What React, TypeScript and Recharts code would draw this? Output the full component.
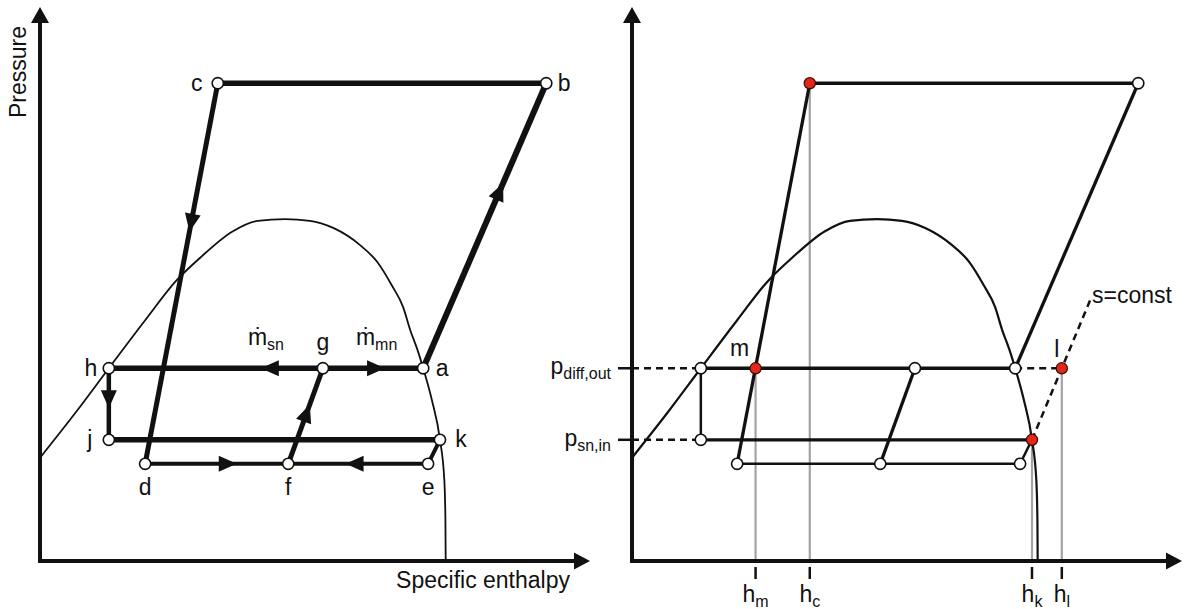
import React from "react";
import { ComposedChart, Line, Scatter, XAxis, YAxis } from "recharts";

// Pressure levels (relative units, 0..100 along the axis)
const pHigh = 87.5;
const pDiffOut = 35.3;
const pSnIn = 22.2;
const pLow = 17.8;

// Specific enthalpy of every state point (relative units, 0..100)
const hOf: Record<string, number> = {
  a: 70.7, b: 93.4, c: 32.8, d: 19.4, e: 71.6, f: 45.8,
  g: 52.2, h: 12.7, j: 12.7, k: 73.8, l: 79.3, m: 22.8,
};
const pOf: Record<string, number> = {
  a: pDiffOut, b: pHigh, c: pHigh, d: pLow, e: pLow, f: pLow,
  g: pDiffOut, h: pDiffOut, j: pSnIn, k: pSnIn, l: pDiffOut, m: pDiffOut,
};

// Saturation dome (liquid line -> critical point -> vapour line)
const domeH = [0, 6.5, 12.7, 19.4, 25.1, 29.5, 35.6, 40.2, 45.2, 49.8, 54.1, 59.0, 62.2, 64.9, 67.0, 68.3, 69.6, 70.7, 72.3, 73.8, 74.6, 74.8, 74.85];
const domeP = [18.9, 27.1, 35.3, 44.1, 51.3, 55.5, 60.4, 62.3, 62.6, 62.3, 61.0, 57.9, 54.8, 50.5, 46.5, 42.3, 38.8, 35.3, 29.5, 22.2, 14.8, 7.5, 0];

// Isentrope from k through l, continued up to its label
const isentropeEnd = { h: 84.5, p: 47.7 };

const cycleEdges = ["cb", "ab", "cd", "ha", "hj", "jk", "de", "ek", "fg"];
const flowArrows = [
  { from: "c", to: "d", at: 0.39 },
  { from: "a", to: "b", at: 0.65 },
  { from: "g", to: "h", at: 0.29 },
  { from: "g", to: "a", at: 0.62 },
  { from: "h", to: "j", at: 0.56 },
  { from: "d", to: "f", at: 0.64 },
  { from: "e", to: "f", at: 0.59 },
  { from: "f", to: "g", at: 0.62 },
];
const leftStates = ["a", "b", "c", "d", "e", "f", "g", "h", "j", "k"];
const massFlows = ["sn", "mn"];
const rightOpenStates = ["b", "h", "g", "a", "j", "d", "f", "e"];
const rightMarkedStates = ["c", "m", "l", "k"];
const rightLabels = ["m", "l"];
const enthalpyTicks = ["m", "c", "k", "l"];
const enthalpyTickValues = enthalpyTicks.map((s) => hOf[s]);
const pressureTickValues = [pDiffOut, pSnIn];
const pressureTickNames = ["diff,out", "sn,in"];

const FONT = '"Liberation Sans", Arial, Helvetica, sans-serif';
const INK = "#111";
const RED = "#e3261a";
const GUIDE = "#a3a3a3";
const PX_PER_H = 5.42;
const PX_PER_P = 5.46;
const LABEL_SIZE = 23;
const SUB_SIZE = 16;

const pt = (s: string) => ({ h: hOf[s], p: pOf[s] });
const edgeData = (e: string) => [pt(e[0]), pt(e[1])];
const domeData = domeH.map((h, i) => ({ h, p: domeP[i] }));
const arrowData = (f: { from: string; to: string; at: number }) => {
  const a = pt(f.from);
  const b = pt(f.to);
  const dh = b.h - a.h;
  const dp = b.p - a.p;
  return [a, { h: a.h + f.at * dh, p: a.p + f.at * dp, dh, dp }];
};
const axisTips = [
  { h: 0, p: 100 },
  { h: 100, p: 0 },
];

const leftWidth: Record<string, number> = { cb: 5.5, ab: 6, cd: 5, ha: 5.5, hj: 4.5, jk: 5.5, de: 4, ek: 4, fg: 5 };
const rightWidth: Record<string, number> = { cb: 3.3, ab: 3.3, cd: 3.3, ha: 3.5, hj: 2.5, jk: 3.3, de: 2.5, ek: 2.5, fg: 3.3 };
const leftLabelOffset: Record<string, [number, number]> = {
  a: [19, 0], b: [18, 0], c: [-21, 0], d: [0, 24], e: [0, 24], f: [0, 24],
  g: [0, -26], h: [-18, 0], j: [-19, 0], k: [21, 0],
};
const rightLabelOffset: Record<string, [number, number]> = { m: [-16, -20], l: [-5, -19] };
const massFlowOffset: Record<string, number> = { sn: -75, mn: 33 };

const lineBase = {
  dataKey: "p",
  dot: false,
  activeDot: false,
  isAnimationActive: false,
  legendType: "none" as const,
};

const ArrowHead = (props: any) => {
  const { cx, cy, index, points, payload } = props;
  if (index !== 1) return null;
  let dx: number;
  let dy: number;
  if (points && points.length > 1) {
    dx = cx - points[0].x;
    dy = cy - points[0].y;
  } else {
    dx = payload.dh * PX_PER_H;
    dy = -payload.dp * PX_PER_P;
  }
  const len = Math.hypot(dx, dy) || 1;
  const ux = dx / len;
  const uy = dy / len;
  const L = 18;
  const W = 8;
  const bx = cx - ux * L;
  const by = cy - uy * L;
  const d = `M${cx},${cy} L${bx - uy * W},${by + ux * W} L${bx + uy * W},${by - ux * W} Z`;
  return <path key={`arrow-${cx}-${cy}`} d={d} fill={INK} />;
};

const AxisTip = (props: any) => {
  const { cx, cy, payload } = props;
  const d =
    payload.h === 0
      ? `M${cx},${cy - 8} L${cx - 9},${cy + 8} L${cx + 9},${cy + 8} Z`
      : `M${cx + 8},${cy} L${cx - 8},${cy - 8.5} L${cx - 8},${cy + 8.5} Z`;
  return <path d={d} fill={INK} />;
};

const OpenNode = (props: any) => (
  <circle cx={props.cx} cy={props.cy} r={5.6} fill="#fff" stroke={INK} strokeWidth={1.6} />
);
const MarkedNode = (props: any) => (
  <circle cx={props.cx} cy={props.cy} r={5.6} fill={RED} stroke="#3a0a05" strokeWidth={1.2} />
);

const makeLetter = (offsets: Record<string, [number, number]>) => (props: any) => {
  const { cx, cy, payload } = props;
  const [dx, dy] = offsets[payload.name] || [0, 0];
  return (
    <text x={cx + dx} y={cy + dy} dy="0.32em" textAnchor="middle" fontSize={LABEL_SIZE} fontFamily={FONT} fill={INK}>
      {payload.name}
    </text>
  );
};

const MassFlowLabel = (props: any) => {
  const { cx, cy, payload } = props;
  return (
    <text x={cx + massFlowOffset[payload.name]} y={cy - 23} fontSize={LABEL_SIZE} fontFamily={FONT} fill={INK}>
      {"\u1E41"}
      <tspan fontSize={SUB_SIZE} dy={5}>
        {payload.name}
      </tspan>
    </text>
  );
};

const IsentropeLabel = (props: any) => (
  <text x={props.cx + 2} y={props.cy + 2.5} fontSize={LABEL_SIZE} fontFamily={FONT} fill={INK}>
    s=const
  </text>
);

const EnthalpyTick = (props: any) => {
  const { x, y, payload } = props;
  const i = enthalpyTickValues.indexOf(payload.value);
  return (
    <g>
      <line x1={x} x2={x} y1={y + 6} y2={y + 18} stroke={INK} strokeWidth={2.5} />
      <text x={x} y={y + 41} textAnchor="middle" fontSize={LABEL_SIZE} fontFamily={FONT} fill={INK}>
        h
        <tspan fontSize={SUB_SIZE} dy={5}>
          {enthalpyTicks[i]}
        </tspan>
      </text>
    </g>
  );
};

const PressureTick = (props: any) => {
  const { x, y, payload } = props;
  const i = pressureTickValues.indexOf(payload.value);
  return (
    <text x={x} y={y + 6} textAnchor="end" fontSize={LABEL_SIZE} fontFamily={FONT} fill={INK}>
      p
      <tspan fontSize={SUB_SIZE} dy={5}>
        {pressureTickNames[i]}
      </tspan>
    </text>
  );
};

const axisLineStyle = { stroke: INK, strokeWidth: 4, strokeLinecap: "square" as const };

function LeftDiagram() {
  return (
    <ComposedChart width={600} height={609} margin={{ top: 15, right: 18, bottom: 0, left: 0 }}>
      <XAxis
        type="number"
        dataKey="h"
        domain={[0, 100]}
        height={48}
        tick={false}
        tickLine={false}
        axisLine={axisLineStyle}
        label={(lp: any) => {
          const vb = lp.viewBox || { x: 40, y: 561, width: 542 };
          return (
            <text x={vb.x + vb.width - 12} y={vb.y + 27} textAnchor="end" fontSize={23} fontFamily={FONT} fill={INK}>
              Specific enthalpy
            </text>
          );
        }}
      />
      <YAxis
        type="number"
        dataKey="p"
        domain={[0, 100]}
        width={40}
        tick={false}
        tickLine={false}
        axisLine={axisLineStyle}
        label={(lp: any) => {
          const vb = lp.viewBox || { x: 0, y: 15 };
          const tx = vb.x + 26;
          const ty = vb.y + 57;
          return (
            <text x={tx} y={ty} transform={`rotate(-90 ${tx} ${ty})`} textAnchor="middle" fontSize={23} fontFamily={FONT} fill={INK}>
              Pressure
            </text>
          );
        }}
      />
      <Line {...lineBase} data={domeData} type="monotone" stroke={INK} strokeWidth={1.8} />
      {cycleEdges.map((e) => (
        <Line key={e} {...lineBase} data={edgeData(e)} type="linear" stroke={INK} strokeWidth={leftWidth[e]} />
      ))}
      {flowArrows.map((f) => (
        <Line
          key={`${f.from}${f.to}`}
          {...lineBase}
          data={arrowData(f)}
          type="linear"
          stroke="none"
          dot={ArrowHead}
        />
      ))}
      <Scatter data={axisTips} shape={AxisTip} isAnimationActive={false} legendType="none" />
      <Scatter data={leftStates.map(pt)} shape={OpenNode} isAnimationActive={false} legendType="none" />
      <Scatter
        data={leftStates.map((s) => ({ ...pt(s), name: s }))}
        shape={makeLetter(leftLabelOffset)}
        isAnimationActive={false}
        legendType="none"
      />
      <Scatter
        data={massFlows.map((name) => ({ ...pt("g"), name }))}
        shape={MassFlowLabel}
        isAnimationActive={false}
        legendType="none"
      />
    </ComposedChart>
  );
}

function RightDiagram() {
  const dashed = { stroke: INK, strokeWidth: 2.5, strokeDasharray: "7 5" };
  return (
    <ComposedChart width={664} height={609} margin={{ top: 15, right: 10, bottom: 0, left: 0 }}>
      <XAxis
        type="number"
        dataKey="h"
        domain={[0, 100]}
        height={48}
        ticks={enthalpyTickValues}
        interval={0}
        tickSize={0}
        tickMargin={0}
        tickLine={false}
        tick={EnthalpyTick}
        axisLine={axisLineStyle}
      />
      <YAxis
        type="number"
        dataKey="p"
        domain={[0, 100]}
        width={112}
        ticks={pressureTickValues}
        interval={0}
        tickSize={14}
        tickMargin={7}
        tickLine={{ stroke: INK, strokeWidth: 2.5 }}
        tick={PressureTick}
        axisLine={axisLineStyle}
      />
      {enthalpyTicks.map((s) => (
        <Line
          key={`guide-${s}`}
          {...lineBase}
          data={[pt(s), { h: hOf[s], p: 0 }]}
          type="linear"
          stroke={GUIDE}
          strokeWidth={2.2}
        />
      ))}
      <Line {...lineBase} data={domeData} type="monotone" stroke={INK} strokeWidth={2.2} />
      {pressureTickValues.map((p, i) => (
        <Line
          key={`level-${i}`}
          {...lineBase}
          data={[{ h: 0, p }, i === 0 ? pt("h") : pt("j")]}
          type="linear"
          {...dashed}
        />
      ))}
      <Line {...lineBase} data={[pt("a"), pt("l")]} type="linear" {...dashed} />
      <Line {...lineBase} data={[pt("k"), pt("l"), isentropeEnd]} type="linear" {...dashed} />
      {cycleEdges.map((e) => (
        <Line key={e} {...lineBase} data={edgeData(e)} type="linear" stroke={INK} strokeWidth={rightWidth[e]} />
      ))}
      <Scatter data={axisTips} shape={AxisTip} isAnimationActive={false} legendType="none" />
      <Scatter data={rightOpenStates.map(pt)} shape={OpenNode} isAnimationActive={false} legendType="none" />
      <Scatter data={rightMarkedStates.map(pt)} shape={MarkedNode} isAnimationActive={false} legendType="none" />
      <Scatter
        data={rightLabels.map((s) => ({ ...pt(s), name: s }))}
        shape={makeLetter(rightLabelOffset)}
        isAnimationActive={false}
        legendType="none"
      />
      <Scatter data={[isentropeEnd]} shape={IsentropeLabel} isAnimationActive={false} legendType="none" />
    </ComposedChart>
  );
}

export default function App() {
  return (
    <div style={{ position: "absolute", left: 0, top: 0, width: 1184, height: 609, background: "#fff" }}>
      <div style={{ position: "absolute", left: 0, top: 0 }}>
        <LeftDiagram />
      </div>
      <div style={{ position: "absolute", left: 520, top: 0 }}>
        <RightDiagram />
      </div>
    </div>
  );
}
